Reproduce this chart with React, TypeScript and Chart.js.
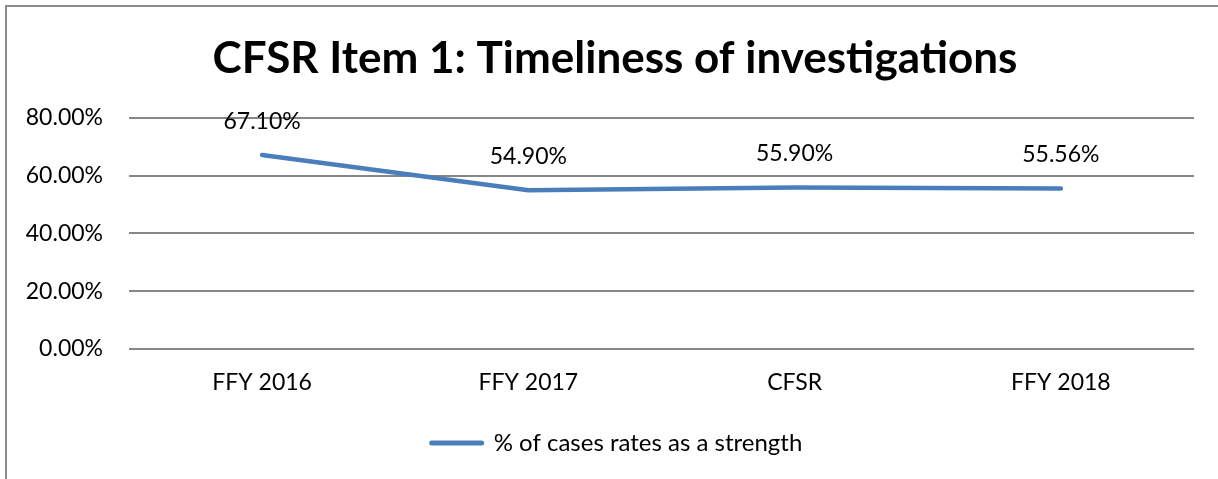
import React, { useEffect, useRef } from "react";
import { Chart, registerables } from "chart.js";

Chart.register(...registerables);

const categories = ["FFY 2016", "FFY 2017", "CFSR", "FFY 2018"];
const strengthValues = [0.671, 0.549, 0.559, 0.5556];
const seriesLabel = "% of cases rates as a strength";
const titleText = "CFSR Item 1: Timeliness of investigations";
const yMin = 0;
const yMax = 0.8;
const yStep = 0.2;

const FONT = "Lato, 'Open Sans', sans-serif";
const LINE_COLOR = "#4A7EBB";
const GRID_COLOR = "#878787";
const LEGEND_SHIFT = 15;
const TITLE_SHIFT = 13;

const pct = (v: number) => (v * 100).toFixed(2) + "%";

const dataLabelPlugin = {
  id: "dataLabels",
  afterLayout(chart: any) {
    if (chart.legend) {
      chart.legend.left += LEGEND_SHIFT;
      chart.legend.right += LEGEND_SHIFT;
    }
    if (chart.titleBlock) {
      chart.titleBlock.left += TITLE_SHIFT;
      chart.titleBlock.right += TITLE_SHIFT;
    }
  },
  afterDatasetsDraw(chart: any) {
    const ctx = chart.ctx;
    const meta = chart.getDatasetMeta(0);
    const values = chart.data.datasets[0].data as number[];
    ctx.save();
    ctx.font = `23px ${FONT}`;
    ctx.fillStyle = "#000000";
    ctx.textAlign = "center";
    ctx.textBaseline = "middle";
    meta.data.forEach((pt: any, i: number) => {
      ctx.fillText(pct(values[i]), pt.x, pt.y - 34);
    });
    ctx.restore();
  },
};

export default function App() {
  const canvasRef = useRef<HTMLCanvasElement | null>(null);

  useEffect(() => {
    if (!canvasRef.current) return;
    const chart = new Chart(canvasRef.current, {
      type: "line",
      data: {
        labels: categories,
        datasets: [
          {
            label: seriesLabel,
            data: strengthValues,
            borderColor: LINE_COLOR,
            backgroundColor: LINE_COLOR,
            borderWidth: 4.5,
            borderCapStyle: "round",
            borderJoinStyle: "round",
            pointRadius: 0,
            pointHoverRadius: 0,
            tension: 0,
            fill: false,
          },
        ],
      },
      options: {
        responsive: false,
        animation: false,
        events: [],
        layout: { padding: { left: 10, right: 24, top: 0, bottom: 14 } },
        plugins: {
          tooltip: { enabled: false },
          title: {
            display: true,
            text: titleText,
            color: "#000000",
            font: { family: FONT, size: 44, weight: "bold", lineHeight: 1.2 },
            padding: { top: 32, bottom: 33 },
          },
          legend: {
            display: true,
            position: "bottom",
            labels: {
              usePointStyle: true,
              pointStyle: "line",
              pointStyleWidth: 50,
              boxWidth: 50,
              boxHeight: 24,
              color: "#000000",
              font: { family: FONT, size: 24 },
              padding: 10,
              generateLabels: () => [
                {
                  text: seriesLabel,
                  fillStyle: LINE_COLOR,
                  strokeStyle: LINE_COLOR,
                  lineWidth: 5,
                  lineCap: "round",
                  pointStyle: "line",
                  hidden: false,
                  datasetIndex: 0,
                  fontColor: "#000000",
                },
              ],
            },
          },
        },
        scales: {
          x: {
            offset: true,
            grid: { display: false, drawTicks: false },
            border: { display: false },
            ticks: {
              color: "#000000",
              font: { family: FONT, size: 23 },
              padding: 20,
              maxRotation: 0,
            },
            afterFit: (scale: any) => {
              scale.height = 72;
            },
          },
          y: {
            min: yMin,
            max: yMax,
            grid: { color: GRID_COLOR, lineWidth: 2, drawTicks: false },
            border: { display: false },
            ticks: {
              stepSize: yStep,
              color: "#000000",
              font: { family: FONT, size: 23 },
              padding: 26,
              callback: (v: any) => pct(Number(v)),
            },
            afterFit: (scale: any) => {
              scale.width = 119;
            },
          },
        },
      },
      plugins: [dataLabelPlugin],
    });
    return () => chart.destroy();
  }, []);

  return (
    <div
      style={{
        position: "absolute",
        left: 0,
        top: 0,
        width: 1218,
        height: 479,
        overflow: "hidden",
        background: "#ffffff",
      }}
    >
      <div
        style={{
          position: "absolute",
          left: 5,
          top: 5,
          width: 1300,
          height: 600,
          borderLeft: "2px solid #8c8c8c",
          borderTop: "2px solid #8c8c8c",
          boxSizing: "border-box",
        }}
      />
      <canvas
        ref={canvasRef}
        width={1218}
        height={479}
        style={{ position: "absolute", left: 0, top: 0 }}
      />
    </div>
  );
}
